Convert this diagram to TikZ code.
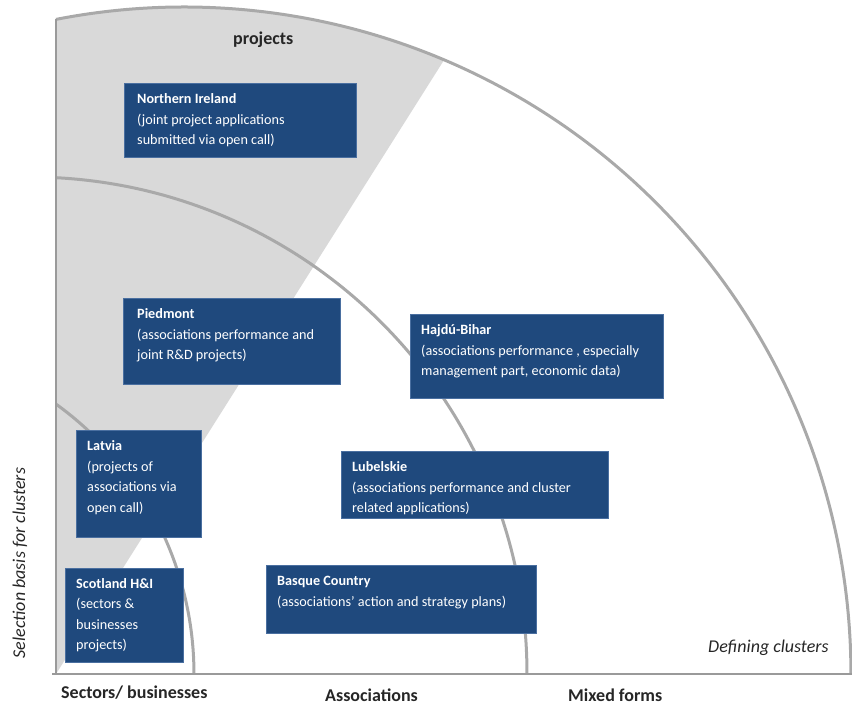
\documentclass[tikz,border=0pt]{standalone}
\usepackage{fontspec}
\setmainfont{Carlito}
\usetikzlibrary{calc}
\definecolor{boxblue}{HTML}{1F497D}
\definecolor{boxedge}{HTML}{4A6FA0}
\definecolor{shadegray}{HTML}{D9D9D9}
\definecolor{arcgray}{HTML}{A9A9A9}
\definecolor{axisgray}{HTML}{9A9A9A}
\definecolor{labelcol}{HTML}{262626}
\begin{document}
\begin{tikzpicture}[x=1pt,y=1pt,
  regionbox/.style={draw=boxedge, line width=0.8pt, fill=boxblue, inner sep=0pt, anchor=north west},
  boxtext/.style={anchor=north west, inner sep=0pt, align=left, text=white, font=\fontsize{14.2}{20.5}\selectfont},
  ringarc/.style={draw=arcgray, line width=3pt},
  axisline/.style={draw=axisgray, line width=2.6pt},
  axislabel/.style={font=\fontsize{18}{20}\selectfont\bfseries, text=labelcol, inner sep=0pt, anchor=base west},
  italiclabel/.style={font=\fontsize{18}{20}\selectfont\itshape, text=labelcol, inner sep=0pt},
]
\useasboundingbox (0,0) rectangle (852,706);

% shaded wedge (projects)
\fill[shadegray] (56,32) -- (444.2,646.2) arc[start angle=67.03, end angle=101.06, radius=667pt] -- cycle;

% rings
\draw[ringarc] (56,686.6) arc[start angle=101.06, end angle=0, radius=667pt];
\draw[ringarc] (56,528.3) arc[start angle=87.0, end angle=0, radius=497pt];
\draw[ringarc] (56,301.9) arc[start angle=54.15, end angle=0, radius=333pt];

% axes
\draw[axisline] (56,686.6) -- (56,32);
\draw[axisline] (52,32) -- (852,32);

% boxes
\node[regionbox, minimum width=232pt, minimum height=74pt] (ni) at (124,623) {};
\node[boxtext] (nit) at ($(ni.north west)+(13,-8.5)$) {\rule{0pt}{12pt}\textbf{Northern Ireland}\\(joint project applications\\submitted via open call)};

\node[regionbox, minimum width=217pt, minimum height=86pt] (pi) at (123,408) {};
\node[boxtext] (pit) at ($(pi.north west)+(14,-8.5)$) {\rule{0pt}{12pt}\textbf{Piedmont}\\(associations performance and\\joint R\&D projects)};

\node[regionbox, minimum width=253pt, minimum height=84pt] (hb) at (410,392) {};
\node[boxtext] (hbt) at ($(hb.north west)+(11,-8.5)$) {\rule{0pt}{12pt}\textbf{Hajdú-Bihar}\\(associations performance , especially\\management part, economic data)};

\node[regionbox, minimum width=267pt, minimum height=67pt] (lu) at (341,255) {};
\node[boxtext] (lut) at ($(lu.north west)+(11,-8.5)$) {\rule{0pt}{12pt}\textbf{Lubelskie}\\(associations performance and cluster\\related applications)};

\node[regionbox, minimum width=125pt, minimum height=107pt] (lv) at (76,276) {};
\node[boxtext] (lvt) at ($(lv.north west)+(11,-8.5)$) {\rule{0pt}{12pt}\textbf{Latvia}\\(projects of\\associations via\\open call)};

\node[regionbox, minimum width=118pt, minimum height=94pt] (sc) at (65,138) {};
\node[boxtext] (sct) at ($(sc.north west)+(11,-8)$) {\rule{0pt}{12pt}\textbf{Scotland H\&I}\\(sectors \&\\businesses\\projects)};

\node[regionbox, minimum width=270pt, minimum height=68pt] (bc) at (266,141) {};
\node[boxtext] (bct) at ($(bc.north west)+(11,-8.5)$) {\rule{0pt}{12pt}\textbf{Basque Country}\\(associations’ action and strategy plans)};

% labels
\node[axislabel] (lproj) at (233,661) {projects};
\node[axislabel] (lsec) at (61,7) {Sectors/ businesses};
\node[axislabel] (lass) at (325,4) {Associations};
\node[axislabel] (lmix) at (568,4) {Mixed forms};
\node[italiclabel, anchor=base west] (ldef) at (708,53) {Defining clusters};
\node[italiclabel, anchor=base, rotate=90] (lsel) at (25,143) {Selection basis for clusters};
\end{tikzpicture}
\end{document}
